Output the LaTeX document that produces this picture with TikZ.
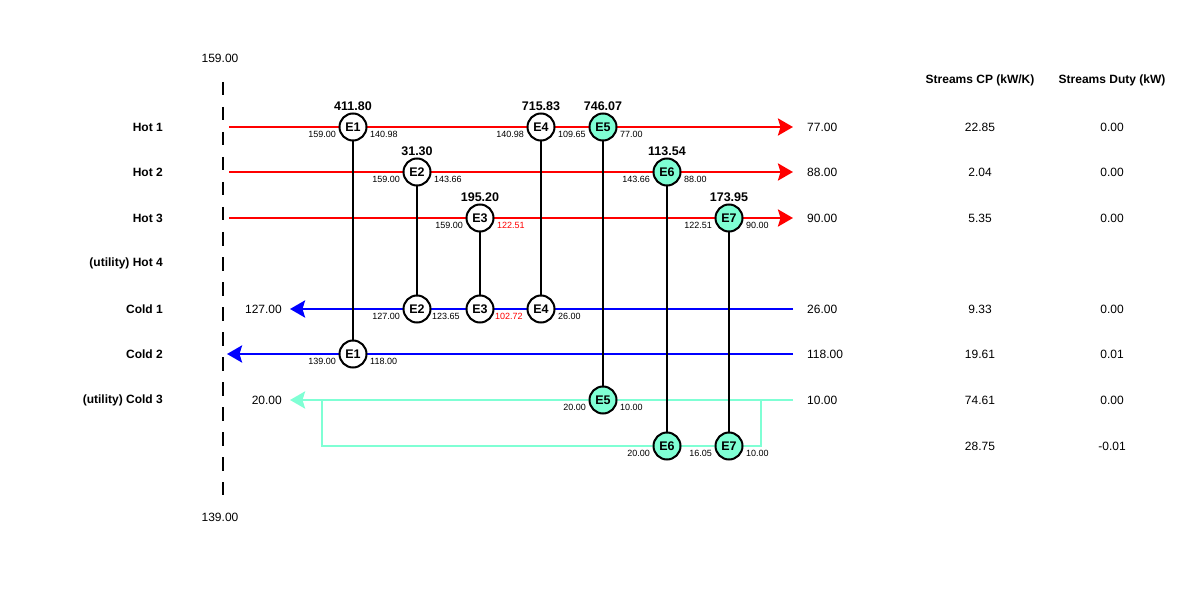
\documentclass[tikz,border=0pt]{standalone}
\usepackage{fontspec}
\setmainfont{Liberation Sans}
\usetikzlibrary{arrows.meta}
\definecolor{aqua}{HTML}{7FFFD4}
\definecolor{hotred}{HTML}{FF0000}
\definecolor{coldblue}{HTML}{0000FF}
\tikzset{
  hx/.style={circle, draw=black, line width=2pt, fill=white, minimum size=27pt, inner sep=0pt,
    font=\bfseries\fontsize{12.5}{12.5}\selectfont},
  hxu/.style={hx, fill=aqua},
  tl/.style={inner sep=0pt, font=\fontsize{9}{9}\selectfont},
  tlred/.style={tl, text=hotred},
  duty/.style={inner sep=0pt, anchor=base, font=\bfseries\fontsize{12.5}{12.5}\selectfont},
  lab/.style={inner sep=0pt, font=\fontsize{12}{12}\selectfont},
  slab/.style={inner sep=0pt, anchor=east, font=\bfseries\fontsize{12}{12}\selectfont},
  head/.style={inner sep=0pt, font=\bfseries\fontsize{12}{12}\selectfont},
  tip/.style={-{Stealth[length=15pt,width=17pt,inset=2.5pt]}},
  hotline/.style={draw=hotred, line width=2.8pt, tip},
  coldline/.style={draw=coldblue, line width=2.8pt, tip},
  utilline/.style={draw=aqua, line width=2.8pt, tip},
  branch/.style={draw=aqua, line width=2.8pt},
  link/.style={draw=black, line width=1.7pt},
  border/.style={draw=black, line width=2.6pt, dash pattern=on 13.5pt off 11.5pt}
}
\begin{document}
\begin{tikzpicture}[x=1pt,y=-1pt]
\useasboundingbox (0,0) rectangle (1202,596);

% boundary
\coordinate (bt) at (223,82);
\coordinate (bb) at (223,495);
\draw[border] (bt) -- (bb);
\node[lab] (ttop) at (220,58) {159.00};
\node[lab] (tbot) at (220,517) {139.00};

% headers
\node[head] (hcp) at (980,80) {Streams CP (kW/K)};
\node[head] (hdu) at (1112,80) {Streams Duty (kW)};

% stream labels
\node[slab] (l1) at (163,127) {Hot 1};
\node[slab] (l2) at (163,172) {Hot 2};
\node[slab] (l3) at (163,218) {Hot 3};
\node[slab] (l4) at (163,263) {(utility) Hot 4};
\node[slab] (l5) at (163,309) {Cold 1};
\node[slab] (l6) at (163,354) {Cold 2};
\node[slab] (l7) at (163,400) {(utility) Cold 3};

% stream coordinates
\coordinate (h1s) at (229,127); \coordinate (h1e) at (793,127);
\coordinate (h2s) at (229,172); \coordinate (h2e) at (793,172);
\coordinate (h3s) at (229,218); \coordinate (h3e) at (793,218);
\coordinate (c1s) at (793,309); \coordinate (c1e) at (290,309);
\coordinate (c2s) at (793,354); \coordinate (c2e) at (227,354);
\coordinate (c3s) at (793,400); \coordinate (c3e) at (290,400);
\coordinate (b1) at (761,400); \coordinate (b2) at (761,446);
\coordinate (b3) at (322,446); \coordinate (b4) at (322,400);

\draw[hotline] (h1s) -- (h1e);
\draw[hotline] (h2s) -- (h2e);
\draw[hotline] (h3s) -- (h3e);
\draw[coldline] (c1s) -- (c1e);
\draw[coldline] (c2s) -- (c2e);
\draw[utilline] (c3s) -- (c3e);
\draw[branch] (b1) -- (b2) -- (b3) -- (b4);

% end temperatures
\node[lab, anchor=west] (o1) at (807,127) {77.00};
\node[lab, anchor=west] (o2) at (807,172) {88.00};
\node[lab, anchor=west] (o3) at (807,218) {90.00};
\node[lab, anchor=west] (i5) at (807,309) {26.00};
\node[lab, anchor=west] (i6) at (807,354) {118.00};
\node[lab, anchor=west] (i7) at (807,400) {10.00};
\node[lab, anchor=east] (o5) at (282,309) {127.00};
\node[lab, anchor=east] (o7) at (282,400) {20.00};

% CP and duty columns
\node[lab] (cp1) at (980,127) {22.85}; \node[lab] (du1) at (1112,127) {0.00};
\node[lab] (cp2) at (980,172) {2.04};  \node[lab] (du2) at (1112,172) {0.00};
\node[lab] (cp3) at (980,218) {5.35};  \node[lab] (du3) at (1112,218) {0.00};
\node[lab] (cp5) at (980,309) {9.33};  \node[lab] (du5) at (1112,309) {0.00};
\node[lab] (cp6) at (980,354) {19.61}; \node[lab] (du6) at (1112,354) {0.01};
\node[lab] (cp7) at (980,400) {74.61}; \node[lab] (du7) at (1112,400) {0.00};
\node[lab] (cp8) at (980,446) {28.75}; \node[lab] (du8) at (1112,446) {-0.01};

% exchanger positions
\coordinate (p1h) at (353,127); \coordinate (p1c) at (353,354);
\coordinate (p2h) at (417,172); \coordinate (p2c) at (417,309);
\coordinate (p3h) at (480,218); \coordinate (p3c) at (480,309);
\coordinate (p4h) at (541,127); \coordinate (p4c) at (541,309);
\coordinate (p5h) at (603,127); \coordinate (p5c) at (603,400);
\coordinate (p6h) at (667,172); \coordinate (p6c) at (667,446);
\coordinate (p7h) at (729,218); \coordinate (p7c) at (729,446);

% links
\draw[link] (p1h) -- (p1c);
\draw[link] (p2h) -- (p2c);
\draw[link] (p3h) -- (p3c);
\draw[link] (p4h) -- (p4c);
\draw[link] (p5h) -- (p5c);
\draw[link] (p6h) -- (p6c);
\draw[link] (p7h) -- (p7c);

% exchangers
\node[hx] (e1h) at (p1h) {E1}; \node[hx] (e1c) at (p1c) {E1};
\node[hx] (e2h) at (p2h) {E2}; \node[hx] (e2c) at (p2c) {E2};
\node[hx] (e3h) at (p3h) {E3}; \node[hx] (e3c) at (p3c) {E3};
\node[hx] (e4h) at (p4h) {E4}; \node[hx] (e4c) at (p4c) {E4};
\node[hxu] (e5h) at (p5h) {E5}; \node[hxu] (e5c) at (p5c) {E5};
\node[hxu] (e6h) at (p6h) {E6}; \node[hxu] (e6c) at (p6c) {E6};
\node[hxu] (e7h) at (p7h) {E7}; \node[hxu] (e7c) at (p7c) {E7};

% duties
\node[duty] (d1) at ([yshift=16.5pt]e1h.center) {411.80};
\node[duty] (d2) at ([yshift=16.5pt]e2h.center) {31.30};
\node[duty] (d3) at ([yshift=16.5pt]e3h.center) {195.20};
\node[duty] (d4) at ([yshift=16.5pt]e4h.center) {715.83};
\node[duty] (d5) at ([yshift=16.5pt]e5h.center) {746.07};
\node[duty] (d6) at ([yshift=16.5pt]e6h.center) {113.54};
\node[duty] (d7) at ([yshift=16.5pt]e7h.center) {173.95};

% temperatures
\node[tl, anchor=east] (t1a) at ([xshift=-17pt,yshift=-7pt]e1h.center) {159.00};
\node[tl, anchor=west] (t1b) at ([xshift=17pt,yshift=-7pt]e1h.center) {140.98};
\node[tl, anchor=east] (t1c) at ([xshift=-17pt,yshift=-7pt]e1c.center) {139.00};
\node[tl, anchor=west] (t1d) at ([xshift=17pt,yshift=-7pt]e1c.center) {118.00};

\node[tl, anchor=east] (t2a) at ([xshift=-17pt,yshift=-7pt]e2h.center) {159.00};
\node[tl, anchor=west] (t2b) at ([xshift=17pt,yshift=-7pt]e2h.center) {143.66};
\node[tl, anchor=east] (t2c) at ([xshift=-17pt,yshift=-7pt]e2c.center) {127.00};
\node[tl, anchor=west] (t2d) at ([xshift=15pt,yshift=-7pt]e2c.center) {123.65};

\node[tl, anchor=east] (t3a) at ([xshift=-17pt,yshift=-7pt]e3h.center) {159.00};
\node[tlred, anchor=west] (t3b) at ([xshift=17pt,yshift=-7pt]e3h.center) {122.51};
\node[tlred, anchor=west] (t3d) at ([xshift=15pt,yshift=-7pt]e3c.center) {102.72};

\node[tl, anchor=east] (t4a) at ([xshift=-17pt,yshift=-7pt]e4h.center) {140.98};
\node[tl, anchor=west] (t4b) at ([xshift=17pt,yshift=-7pt]e4h.center) {109.65};
\node[tl, anchor=west] (t4d) at ([xshift=17pt,yshift=-7pt]e4c.center) {26.00};

\node[tl, anchor=west] (t5b) at ([xshift=17pt,yshift=-7pt]e5h.center) {77.00};
\node[tl, anchor=east] (t5c) at ([xshift=-17pt,yshift=-7pt]e5c.center) {20.00};
\node[tl, anchor=west] (t5d) at ([xshift=17pt,yshift=-7pt]e5c.center) {10.00};

\node[tl, anchor=east] (t6a) at ([xshift=-17pt,yshift=-7pt]e6h.center) {143.66};
\node[tl, anchor=west] (t6b) at ([xshift=17pt,yshift=-7pt]e6h.center) {88.00};
\node[tl, anchor=east] (t6c) at ([xshift=-17pt,yshift=-7pt]e6c.center) {20.00};

\node[tl, anchor=east] (t7a) at ([xshift=-17pt,yshift=-7pt]e7h.center) {122.51};
\node[tl, anchor=west] (t7b) at ([xshift=17pt,yshift=-7pt]e7h.center) {90.00};
\node[tl, anchor=east] (t7c) at ([xshift=-17pt,yshift=-7pt]e7c.center) {16.05};
\node[tl, anchor=west] (t7d) at ([xshift=17pt,yshift=-7pt]e7c.center) {10.00};
\end{tikzpicture}
\end{document}
